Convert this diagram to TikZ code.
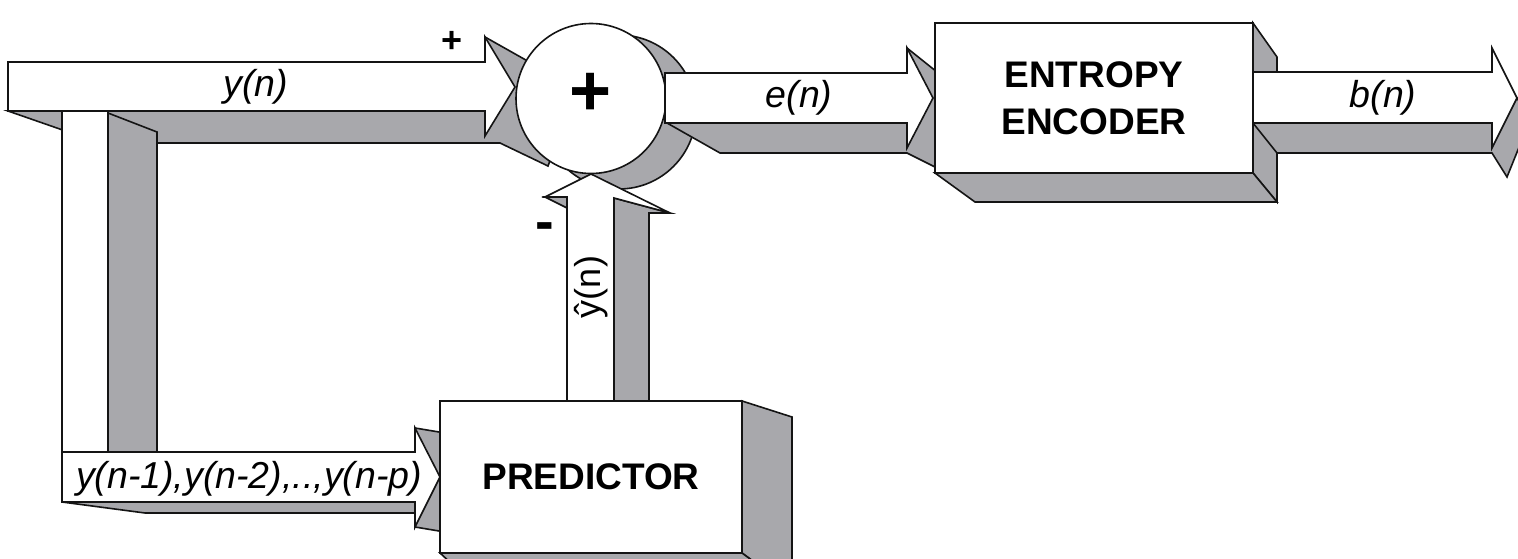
\documentclass[tikz,border=0pt]{standalone}
\usepackage{fontspec}
\setmainfont{Liberation Sans}
\definecolor{shade}{RGB}{168,168,172}
\definecolor{edge}{RGB}{20,20,20}
\tikzset{
  face/.style={draw=edge, line width=1.6pt, fill=white, line join=miter},
  side/.style={draw=edge, line width=1.6pt, fill=shade, line join=miter},
  boxface/.style={face, rectangle, inner sep=0pt, outer sep=0pt, align=center,
    font=\fontsize{37}{47}\selectfont\bfseries},
  lbl/.style={inner sep=0pt, font=\fontsize{37.5}{40}\selectfont\itshape},
  ulbl/.style={inner sep=0pt, font=\fontsize{36}{40}\selectfont},
  sign/.style={inner sep=0pt, font=\fontsize{36}{40}\selectfont\bfseries},
}
\begin{document}
\begin{tikzpicture}[x=1pt,y=-1pt]
\useasboundingbox (0,0) rectangle (1518,559);
\clip (0,0) rectangle (1518,559);
\fill[white] (0,0) rectangle (1518,559);

% shadow of the summing junction
\draw[side] (619,112) circle[radius=77pt];

% shadow of the y(n) arrow (bottom face and head)
\draw[side] (8,111) -- (100,143) -- (500,143) -- (548,166) -- (565,120)
  -- (540,68) -- (485,37) -- (485,111) -- cycle;

% feedback vertical bar
\draw[face] (62,111) rectangle (108,452);
\draw[side] (108,113) -- (157,132) -- (157,452) -- (108,452) -- cycle;

% bottom arrow y(n-1)... : shadow, then face
\draw[side] (62,502) -- (145,513) -- (415,513) -- (415,527) -- (445,532)
  -- (445,433) -- (415,428) -- (415,502) -- cycle;
\draw[face] (62,452) -- (415,452) -- (415,428) -- (440,477) -- (415,527)
  -- (415,502) -- (62,502) -- cycle;

% predictor block
\draw[side] (742,401) -- (792,417) -- (792,590) -- (742,553) -- cycle;
\draw[side] (440,553) -- (480,590) -- (792,590) -- (742,553) -- cycle;
\node[boxface, minimum width=302pt, minimum height=152pt] (pred) at (591,477) {PREDICTOR};

% y-hat arrow
\draw[side] (545,197) -- (567,197) -- (567,208) -- cycle;
\draw[side] (614,198) -- (670,213) -- (649,213) -- (649,401) -- (614,401) -- cycle;
\draw[face] (567,401) -- (567,197) -- (545,197) -- (591,174) -- (670,213)
  -- (614,198) -- (614,401) -- cycle;

% shadow of the e(n) arrow
\draw[side] (667,123) -- (720,153) -- (907,153) -- (937,168) -- (937,72)
  -- (907,48) -- (907,123) -- cycle;

% summing junction
\node[face, circle, minimum size=150pt, inner sep=0pt] (sum) at (591,98.5) {};
\node[inner sep=0pt, font=\fontsize{72}{72}\selectfont\bfseries] (plus) at (591,94) {+};

% y(n) arrow face
\draw[face] (8,62) -- (485,62) -- (485,37) -- (515,87) -- (485,136)
  -- (485,111) -- (8,111) -- cycle;

% e(n) arrow face
\draw[face] (665,73) -- (907,73) -- (907,48) -- (933,98) -- (907,148)
  -- (907,123) -- (665,123) -- cycle;

% entropy encoder block
\draw[side] (1253,23) -- (1277,57) -- (1277,202) -- (1253,173) -- cycle;
\draw[side] (935,173) -- (975,202) -- (1277,202) -- (1253,173) -- cycle;

% b(n) arrow: shadow, then face
\draw[side] (1253,123) -- (1277,153) -- (1492,153) -- (1507,177) -- (1530,120)
  -- (1517,98) -- (1492,123) -- cycle;
\draw[face] (1253,72) -- (1492,72) -- (1492,48) -- (1517,98) -- (1492,148)
  -- (1492,123) -- (1253,123) -- cycle;

\node[boxface, minimum width=318pt, minimum height=150pt] (enc) at (1094,98)
  {ENTROPY\\ENCODER};

% labels
\node[lbl] (ly) at (256,87) {y(n)};
\node[lbl] (le) at (799,98) {e(n)};
\node[lbl] (lb) at (1383,98) {b(n)};
\node[lbl] (lpast) at (249,479) {y(n-1),y(n-2),..,y(n-p)};
\node[ulbl, rotate=90] (lhat) at (591,287) {ŷ(n)};
\node[sign] (lplus) at (452,42) {+};
\node[inner sep=0pt, font=\fontsize{56}{56}\selectfont\bfseries] (lminus) at (545,232) {-};
\end{tikzpicture}
\end{document}
